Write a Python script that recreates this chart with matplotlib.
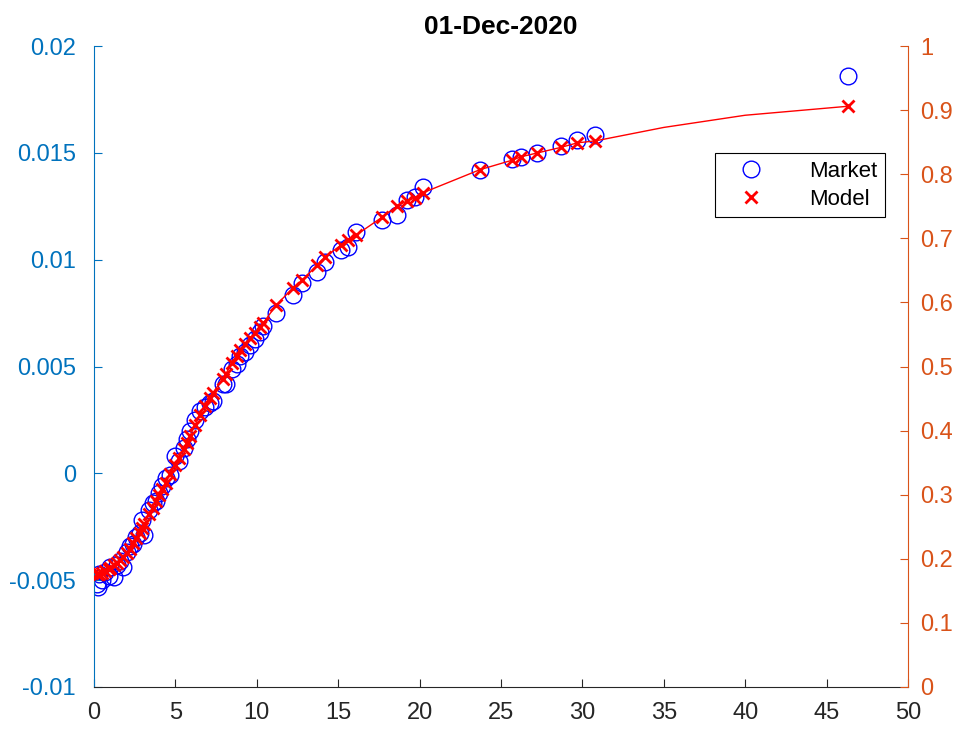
import numpy as np
import matplotlib.pyplot as plt

plt.rcParams['font.family'] = ['Liberation Sans', 'DejaVu Sans']

# time to maturity (x), market values (left axis), model values (right axis)
x = [0.2, 0.25, 0.3, 0.5, 0.7, 0.9, 1.0, 1.2, 1.4, 1.6, 1.8, 2.0, 2.2, 2.4,
     2.6, 2.8, 2.95, 3.1, 3.4, 3.6, 3.8, 4.0, 4.2, 4.4, 4.7, 5.0, 5.2, 5.5,
     5.7, 5.9, 6.2, 6.5, 6.8, 7.1, 7.3, 7.9, 8.1, 8.5, 8.8, 9.0, 9.3, 9.6,
     9.9, 10.2, 10.4, 11.2, 12.2, 12.8, 13.7, 14.2, 15.2, 15.6, 16.1, 17.7,
     18.6, 19.2, 19.7, 20.2, 23.7, 25.7, 26.2, 27.2, 28.7, 29.7, 30.8, 46.3]
market = [-0.0052, -0.00532, -0.0047, -0.0050, -0.0046, -0.0048, -0.0044,
          -0.00485, -0.0043, -0.0041, -0.0044, -0.0037, -0.0034, -0.0033,
          -0.0030, -0.0028, -0.0022, -0.0029, -0.0017, -0.0014, -0.0013,
          -0.0009, -0.0006, -0.0002, -0.0001, 0.0008, 0.0006, 0.0012, 0.0016,
          0.0020, 0.0025, 0.0029, 0.0031, 0.0033, 0.0034, 0.0042, 0.0042,
          0.0049, 0.0051, 0.0055, 0.0057, 0.0060, 0.0063, 0.0066, 0.0069,
          0.0075, 0.00835, 0.00891, 0.00942, 0.0099, 0.01045, 0.0106, 0.0113,
          0.01186, 0.0121, 0.0128, 0.01293, 0.0134, 0.0142, 0.0147, 0.0148,
          0.0150, 0.0153, 0.0156, 0.01583, 0.0186]
model = [0.176, 0.176, 0.177, 0.178, 0.181, 0.184, 0.186, 0.190, 0.194,
         0.198, 0.203, 0.209, 0.216, 0.224, 0.232, 0.241, 0.248, 0.255, 0.270,
         0.280, 0.290, 0.299, 0.309, 0.319, 0.333, 0.347, 0.357, 0.371, 0.381,
         0.392, 0.408, 0.424, 0.439, 0.451, 0.459, 0.480, 0.489, 0.505, 0.517,
         0.526, 0.535, 0.544, 0.553, 0.562, 0.568, 0.596, 0.622, 0.635, 0.658,
         0.671, 0.690, 0.697, 0.705, 0.733, 0.750, 0.758, 0.763, 0.771, 0.807,
         0.822, 0.827, 0.833, 0.842, 0.849, 0.852, 0.906]

# model curve between the last quotes
tail_x = [35, 40]
tail_y = [0.873, 0.892]

blue_ax = '#0072BD'
orange_ax = '#D95319'

fig = plt.figure(figsize=(9.61, 7.33), dpi=100)
ax = fig.add_axes([0.0978, 0.0628, 0.8470, 0.8744])
ax2 = ax.twinx()

h1, = ax.plot(x, market, 'o', color='#0000FF', mfc='none', ms=12, mew=1.0,
              label='Market')
line_x = np.concatenate([x, tail_x])
line_y = np.concatenate([model, tail_y])
order = np.argsort(line_x)
ax2.plot(line_x[order], line_y[order], '-', color='#FF0000', lw=1.0)
h2, = ax2.plot(x, model, 'x', color='#FF0000', ms=8.5, mew=2, label='Model')

ax.set_xlim(0, 50)
ax.set_ylim(-0.01, 0.02)
ax2.set_ylim(0, 1)
ax.set_xticks(np.arange(0, 51, 5))
ax.set_yticks([-0.01, -0.005, 0, 0.005, 0.01, 0.015, 0.02])
ax.set_yticklabels(['-0.01', '-0.005', '0', '0.005', '0.01', '0.015', '0.02'])
ax2.set_yticks(np.arange(0, 1.01, 0.1))
ax2.set_yticklabels(['0', '0.1', '0.2', '0.3', '0.4', '0.5', '0.6', '0.7',
                     '0.8', '0.9', '1'])

for a in (ax, ax2):
    a.spines['top'].set_visible(False)
ax.spines['left'].set_color(blue_ax)
ax.spines['bottom'].set_color('#262626')
ax.spines['right'].set_visible(False)
ax2.spines['left'].set_visible(False)
ax2.spines['bottom'].set_visible(False)
ax2.spines['right'].set_color(orange_ax)

ax.tick_params(axis='x', direction='in', length=6, colors='#262626',
               labelsize=17, pad=11)
ax.tick_params(axis='y', direction='in', length=6, colors=blue_ax,
               labelsize=17, pad=13)
ax2.tick_params(axis='y', direction='in', length=6, colors=orange_ax,
                labelsize=17, pad=9)

ax.set_title('01-Dec-2020', fontsize=19, fontweight='bold', pad=9)

leg = ax2.legend([h1, h2], ['Market', 'Model'], loc='upper right',
                 bbox_to_anchor=(0.972, 0.833), fontsize=16, fancybox=False,
                 edgecolor='black', framealpha=1, borderpad=0.35,
                 handletextpad=1.3, handlelength=2.6, labelspacing=0.3,
                 borderaxespad=0)
leg.get_frame().set_linewidth(0.8)

plt.savefig('out.png', dpi=100)
